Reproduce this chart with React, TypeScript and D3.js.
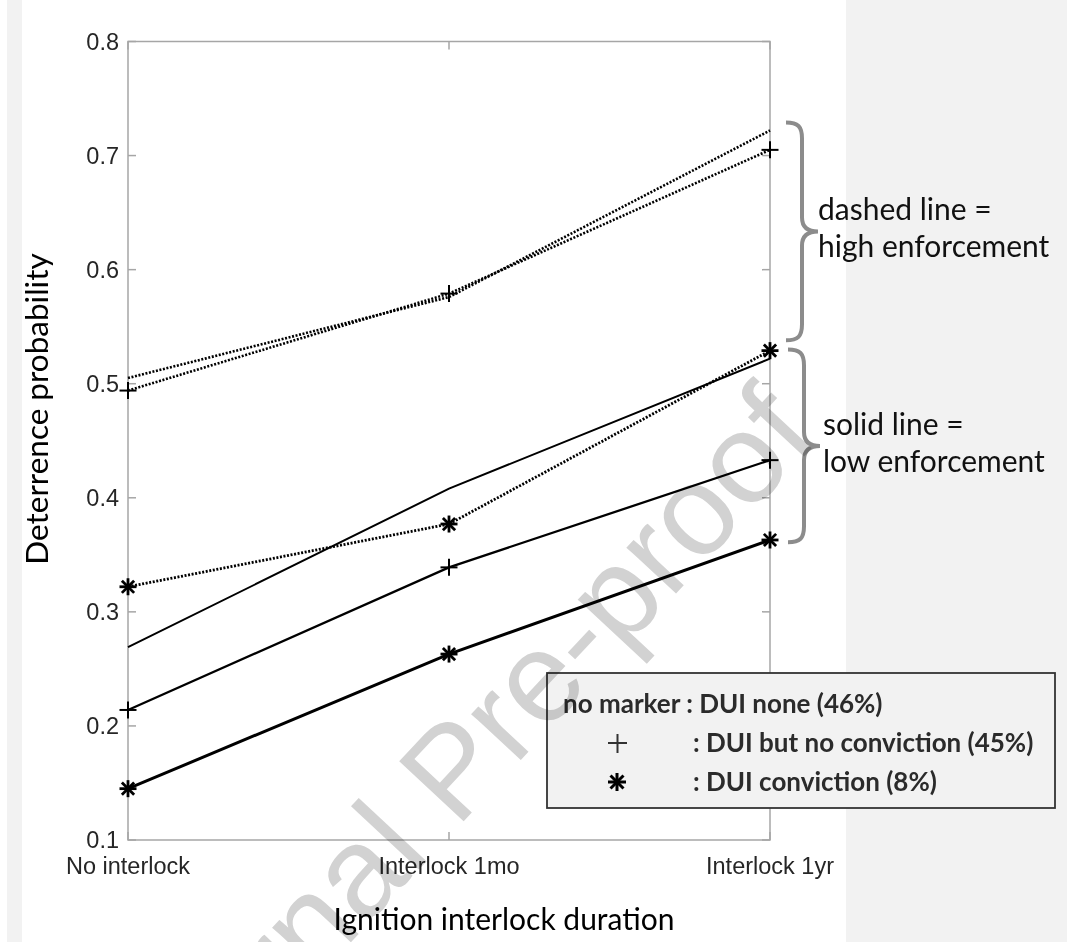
import React from "react";
import * as d3 from "d3";

// categories on the x axis
const durations = ["No interlock", "Interlock 1mo", "Interlock 1yr"];
const yTicks = [0.1, 0.2, 0.3, 0.4, 0.5, 0.6, 0.7, 0.8];

// high enforcement (dotted)
const highNone = [0.505, 0.576, 0.722];
const highNoConv = [0.494, 0.579, 0.705];
const highConv = [0.322, 0.377, 0.529];
// low enforcement (solid)
const lowNone = [0.269, 0.408, 0.522];
const lowNoConv = [0.214, 0.339, 0.433];
const lowConv = [0.145, 0.263, 0.363];

const series = [
  { values: highNone, marker: "none", dotted: true, width: 2.6 },
  { values: highNoConv, marker: "plus", dotted: true, width: 2.6 },
  { values: highConv, marker: "star", dotted: true, width: 2.8 },
  { values: lowNone, marker: "none", dotted: false, width: 2 },
  { values: lowNoConv, marker: "plus", dotted: false, width: 2.3 },
  { values: lowConv, marker: "star", dotted: false, width: 3 },
];

// braces: [top, bottom] in data units
const braceHigh = [0.729, 0.538];
const braceLow = [0.53, 0.361];
const legendRows = ["no marker : DUI none (46%)", ": DUI but no conviction (45%)", ": DUI conviction (8%)"];

const W = 1067;
const H = 942;
const plot = { left: 128, right: 770, top: 41.5, bottom: 840 };
const calibri = "Lato, 'Open Sans', sans-serif";
const arial = "'Liberation Sans', Arial, sans-serif";

function Marker({ type, x, y, size = 8.5, w = 2 }) {
  if (type === "none") return null;
  const d = size * 0.72;
  return (
    <g stroke="#000" strokeWidth={w} strokeLinecap="butt">
      <line x1={x - size} x2={x + size} y1={y} y2={y} />
      <line x1={x} x2={x} y1={y - size} y2={y + size} />
      {type === "star" && (
        <>
          <line x1={x - d} x2={x + d} y1={y - d} y2={y + d} />
          <line x1={x - d} x2={x + d} y1={y + d} y2={y - d} />
        </>
      )}
    </g>
  );
}

function bracePath(x0, yTop, yBot) {
  const xb = x0 + 16;
  const xt = x0 + 32;
  const ym = (yTop + yBot) / 2;
  return `M${x0},${yTop} C${x0 + 12},${yTop} ${xb},${yTop + 4} ${xb},${yTop + 16}
    L${xb},${ym - 14} C${xb},${ym - 4} ${xb + 6},${ym} ${xt},${ym}
    C${xb + 6},${ym} ${xb},${ym + 4} ${xb},${ym + 14}
    L${xb},${yBot - 16} C${xb},${yBot - 4} ${x0 + 12},${yBot} ${x0},${yBot}`;
}

export default function App() {
  const x = d3.scalePoint().domain(durations).range([plot.left, plot.right]);
  const y = d3.scaleLinear().domain([0.1, 0.8]).range([plot.bottom, plot.top]);
  const line = d3
    .line<number>()
    .x((_, i) => x(durations[i]))
    .y((d) => y(d));

  return (
    <svg width={W} height={H} style={{ position: "absolute", left: 0, top: 0, background: "#fff" }}>
      <rect x={7} y={0} width={15} height={H} fill="#f2f2f2" />
      <rect x={846} y={0} width={W - 846} height={H} fill="#f2f2f2" />

      {/* axes box and ticks */}
      <g stroke="#a6a6a6" strokeWidth={1.5} fill="none">
        <rect x={plot.left} y={plot.top} width={plot.right - plot.left} height={plot.bottom - plot.top} />
        {yTicks.map((t) => (
          <g key={t}>
            <line x1={plot.left} x2={plot.left + 8} y1={y(t)} y2={y(t)} />
            <line x1={plot.right - 8} x2={plot.right} y1={y(t)} y2={y(t)} />
          </g>
        ))}
        {durations.map((c) => (
          <g key={c}>
            <line x1={x(c)} x2={x(c)} y1={plot.bottom} y2={plot.bottom - 8} />
            <line x1={x(c)} x2={x(c)} y1={plot.top} y2={plot.top + 8} />
          </g>
        ))}
      </g>
      <g fontFamily={arial} fontSize={23.5} fill="#262626">
        {yTicks.map((t) => (
          <text key={t} x={plot.left - 9} y={y(t)} dy="0.36em" textAnchor="end">
            {t.toFixed(1)}
          </text>
        ))}
        {durations.map((c) => (
          <text key={c} x={x(c)} y={874} textAnchor="middle">
            {c}
          </text>
        ))}
      </g>

      {/* series */}
      {series.map((s, i) => (
        <g key={i}>
          <path
            d={line(s.values)}
            fill="none"
            stroke="#000"
            strokeWidth={s.width}
            strokeDasharray={s.dotted ? "2,1.6" : undefined}
          />
          {s.values.map((v, j) => (
            <Marker key={j} type={s.marker} x={x(durations[j])} y={y(v)} w={s.marker === "star" ? 2.8 : 2} />
          ))}
        </g>
      ))}

      {/* axis titles */}
      <text x={504} y={930} textAnchor="middle" fontFamily={calibri} fontSize={30} fill="#000">
        Ignition interlock duration
      </text>
      <text
        transform={`translate(48,409) rotate(-90)`}
        textAnchor="middle"
        fontFamily={calibri}
        fontSize={31.5}
        fill="#000"
      >
        Deterrence probability
      </text>

      {/* braces + notes */}
      <g stroke="#8c8c8c" strokeWidth={4} fill="none">
        <path d={bracePath(786, y(braceHigh[0]), y(braceHigh[1]))} />
        <path d={bracePath(788, y(braceLow[0]), y(braceLow[1]))} />
      </g>
      <g fontFamily={calibri} fontSize={30} fill="#111">
        <text x={818} y={220}>dashed line =</text>
        <text x={818} y={257}>high enforcement</text>
        <text x={823} y={435}>solid line =</text>
        <text x={823} y={472}>low enforcement</text>
      </g>

      {/* legend */}
      <rect x={547} y={673} width={508} height={135} fill="#f2f2f2" stroke="#333" strokeWidth={1.8} />
      <g fontFamily={calibri} fontSize={26} fontWeight={700} fill="#2b2b2b">
        <text x={563} y={713}>{legendRows[0]}</text>
        <text x={693} y={752}>{legendRows[1]}</text>
        <text x={693} y={791}>{legendRows[2]}</text>
      </g>
      <g stroke="#333" strokeWidth={2}>
        <line x1={608} x2={627} y1={743} y2={743} />
        <line x1={617.5} x2={617.5} y1={734} y2={753} />
      </g>
      <Marker type="star" x={617} y={782} size={9} w={3} />

      {/* watermark */}
      <text
        transform="translate(146,1162) rotate(-47)"
        fontFamily={arial}
        fontSize={128}
        fill="#d2d2d2"
        style={{ mixBlendMode: "multiply" }}
      >
        Journal Pre-proof
      </text>
    </svg>
  );
}
